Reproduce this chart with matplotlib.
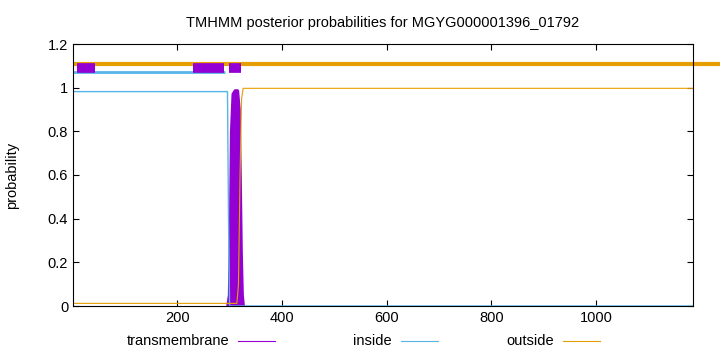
import matplotlib
matplotlib.use("Agg")
import matplotlib.pyplot as plt

plt.rcParams['font.family'] = ['Liberation Sans', 'DejaVu Sans']

title = "TMHMM posterior probabilities for MGYG000001396_01792"
seq_len = 1185

# posterior probability profiles (breakpoints)
tm_pos = [297, 300, 302, 304, 307, 311, 315, 318, 320, 322, 324, 326]
tm_val = [0, 0.05, 0.35, 0.8, 0.97, 0.985, 0.985, 0.9, 0.6, 0.25, 0.05, 0]
in_pos = [1, 296, 298, 300, 1185]
in_val = [0.982, 0.982, 0.4, 0, 0]
out_pos = [1, 314, 317, 320, 323, 326, 1185]
out_val = [0.012, 0.012, 0.1, 0.6, 0.95, 0.997, 0.997]

# predicted topology bars along the top
outside_bar = [(1, 1240)]
inside_bar = [(1, 291)]
tm_boxes = [(8, 43), (230, 289), (299, 321)]

xticks = [200, 400, 600, 800, 1000]
yticks = [0, 0.2, 0.4, 0.6, 0.8, 1, 1.2]
ytick_labels = ["0", "0.2", "0.4", "0.6", "0.8", "1", "1.2"]

purple = "#9400D3"
blue = "#56B4E9"
orange = "#E69F00"

fig = plt.figure(figsize=(7.2, 3.52), dpi=100)
ax = fig.add_axes([73 / 720, 1 - 306 / 352, 620 / 720, 262 / 352])

ax.fill_between(tm_pos, 0, tm_val, color=purple, lw=0)
ax.plot(tm_pos, tm_val, color=purple, lw=2.5)
ax.plot(in_pos, in_val, color=blue, lw=1)
ax.plot(out_pos, out_val, color=orange, lw=0.8)

for a, b in outside_bar:
    ax.plot([a, b], [1.109, 1.109], color=orange, lw=3, clip_on=False, solid_capstyle='butt')
for a, b in inside_bar:
    ax.plot([a, b], [1.07, 1.07], color=blue, lw=2, solid_capstyle='butt')
for a, b in tm_boxes:
    ax.plot([a, b], [1.09, 1.09], color=purple, lw=7, solid_capstyle='butt')

ax.set_xlim(1, seq_len)
ax.set_ylim(0, 1.2)
ax.set_xticks(xticks)
ax.set_yticks(yticks)
ax.set_yticklabels(ytick_labels)
ax.tick_params(direction='in', top=True, right=True, labelsize=10.5, length=4)
ax.set_ylabel("probability", fontsize=10.5)
ax.yaxis.set_label_coords(-0.087, 0.5)
ax.set_title(title, fontsize=10.5, pad=12)

# legend drawn gnuplot-style below the axes
legend_items = [("transmembrane", purple, 0.318), ("inside", blue, 0.544), ("outside", orange, 0.769)]
for label, col, xr in legend_items:
    fig.text(xr, 0.031, label, ha='right', va='center', fontsize=10.5)
    fig.lines.append(plt.Line2D([xr + 0.013, xr + 0.064], [0.031, 0.031],
                                transform=fig.transFigure, color=col, lw=0.8))

fig.savefig("out.png", dpi=100)
